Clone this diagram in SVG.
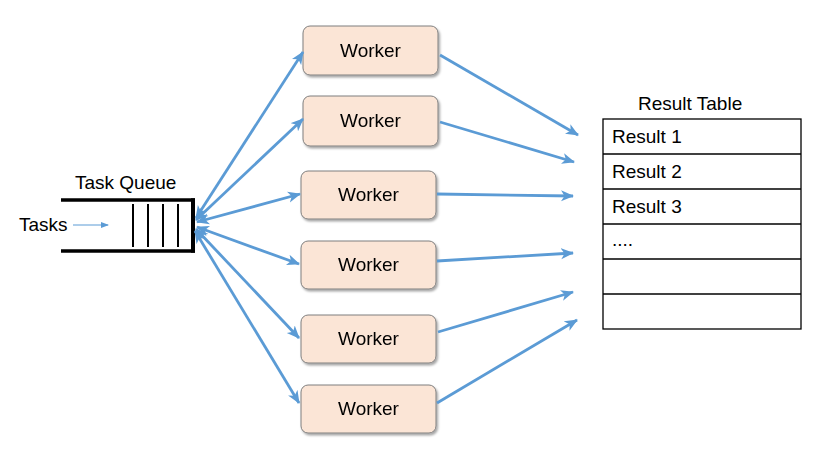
<svg xmlns="http://www.w3.org/2000/svg" width="831" height="471" viewBox="0 0 831 471">
<style>
.t{font-family:"Liberation Sans",Arial,sans-serif;font-size:19px;fill:#000}
.w rect{fill:#fbe5d6;stroke:#7f7f7f;stroke-width:1}
.c line{stroke:#5b9bd5;stroke-width:2.8;marker-end:url(#ah)}
.c .d{marker-start:url(#ah)}
.tb{fill:none;stroke:#000;stroke-width:1.3}
</style>
<defs>
<marker id="ah" markerUnits="userSpaceOnUse" markerWidth="14" markerHeight="12" refX="12" refY="6" orient="auto-start-reverse">
<path d="M0,0.5 L13,6 L0,11.5 L3.5,6 z" fill="#5b9bd5"/>
</marker>
<marker id="sa" markerUnits="userSpaceOnUse" markerWidth="8" markerHeight="6" refX="7" refY="3" orient="auto">
<path d="M0,0 L8,3 L0,6 z" fill="#5b9bd5"/>
</marker>
<filter id="sh" x="-10%" y="-10%" width="130%" height="140%">
<feDropShadow dx="1.5" dy="2" stdDeviation="1.2" flood-color="#000" flood-opacity="0.35"/>
</filter>
</defs>
<rect width="831" height="471" fill="#fff"/>

<g id="queue">
<text class="t" x="75" y="189">Task Queue</text>
<line x1="61" y1="200" x2="195" y2="200" stroke="#000" stroke-width="3.5"/>
<line x1="61" y1="251" x2="195" y2="251" stroke="#000" stroke-width="3.5"/>
<line x1="193" y1="198.3" x2="193" y2="252.7" stroke="#000" stroke-width="4"/>
<line x1="133" y1="204" x2="133" y2="247" stroke="#000" stroke-width="2"/>
<line x1="148" y1="204" x2="148" y2="247" stroke="#000" stroke-width="2"/>
<line x1="163" y1="204" x2="163" y2="247" stroke="#000" stroke-width="2"/>
<line x1="178" y1="204" x2="178" y2="247" stroke="#000" stroke-width="2"/>
</g>

<g id="tasks">
<text class="t" x="19" y="231">Tasks</text>
<line x1="73" y1="225" x2="108" y2="225" stroke="#5b9bd5" stroke-width="1" marker-end="url(#sa)"/>
</g>

<g class="w" filter="url(#sh)">
<g id="worker1"><rect x="303" y="26" width="135" height="49" rx="7"/><text class="t" x="370.5" y="57" text-anchor="middle">Worker</text></g>
<g id="worker2"><rect x="303" y="96" width="135" height="50" rx="7"/><text class="t" x="370.5" y="127" text-anchor="middle">Worker</text></g>
<g id="worker3"><rect x="301" y="171" width="135" height="48" rx="7"/><text class="t" x="368.5" y="201" text-anchor="middle">Worker</text></g>
<g id="worker4"><rect x="301" y="241" width="135" height="48" rx="7"/><text class="t" x="368.5" y="271" text-anchor="middle">Worker</text></g>
<g id="worker5"><rect x="301" y="315" width="135" height="48" rx="7"/><text class="t" x="368.5" y="345" text-anchor="middle">Worker</text></g>
<g id="worker6"><rect x="301" y="385" width="135" height="48" rx="7"/><text class="t" x="368.5" y="415" text-anchor="middle">Worker</text></g>
</g>

<g id="result-table">
<text class="t" x="638" y="110">Result Table</text>
<rect class="tb" x="603" y="119" width="198" height="210"/>
<line class="tb" x1="603" y1="154" x2="801" y2="154"/>
<line class="tb" x1="603" y1="189" x2="801" y2="189"/>
<line class="tb" x1="603" y1="224" x2="801" y2="224"/>
<line class="tb" x1="603" y1="259" x2="801" y2="259"/>
<line class="tb" x1="603" y1="294" x2="801" y2="294"/>
<text class="t" x="612" y="143">Result 1</text>
<text class="t" x="612" y="178">Result 2</text>
<text class="t" x="612" y="213">Result 3</text>
<text class="t" x="612" y="246">....</text>
</g>

<g class="c" id="connectors">
<line class="d" x1="196" y1="218" x2="303" y2="52"/>
<line class="d" x1="196" y1="220" x2="303" y2="119"/>
<line class="d" x1="197" y1="222" x2="300" y2="194"/>
<line class="d" x1="197" y1="227" x2="299" y2="264"/>
<line class="d" x1="196" y1="229" x2="299" y2="338"/>
<line class="d" x1="195" y1="231" x2="299" y2="403"/>
<line x1="440" y1="55" x2="578" y2="135"/>
<line x1="440" y1="122" x2="574" y2="162"/>
<line x1="437" y1="194" x2="573" y2="196"/>
<line x1="437" y1="261" x2="573" y2="253"/>
<line x1="438" y1="332" x2="573" y2="292"/>
<line x1="437" y1="403" x2="577" y2="320"/>
</g>
</svg>
